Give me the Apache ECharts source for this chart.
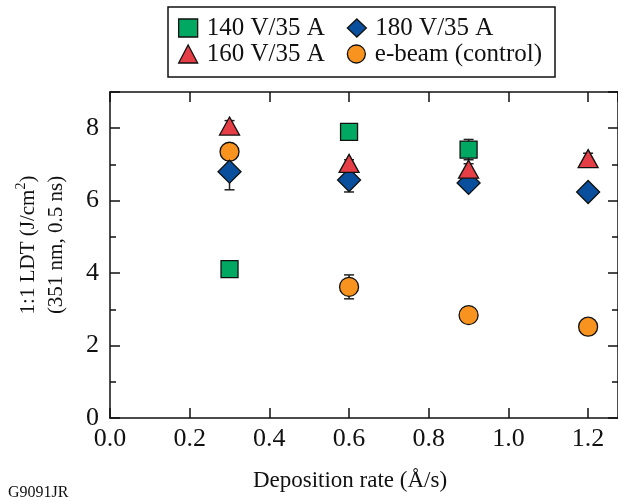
<!DOCTYPE html>
<html><head><meta charset="utf-8">
<script src="https://cdn.jsdelivr.net/npm/echarts@6/dist/echarts.min.js"></script>
<style>html,body{margin:0;padding:0;background:#fff}#c{width:618px;height:501px}</style>
</head><body><div id="c"></div>
<script>
const xs = [0.3, 0.6, 0.9, 1.2];
const s140 = [4.11, 7.9, 7.41, null];
const s140Err = [0.1, 0.05, 0.28, 0];
const s180 = [6.8, 6.57, 6.49, 6.24];
const s180Err = [0.5, 0.33, 0.12, 0.1];
const s160 = [8.06, 7.03, 6.87, 7.16];
const s160Err = [0.15, 0.1, 0.15, 0.15];
const sEbeam = [7.35, 3.62, 2.84, 2.52];
const sEbeamErr = [0.1, 0.33, 0.1, 0.1];
const names = ['140 V/35 A', '180 V/35 A', '160 V/35 A', 'e-beam (control)'];
const colors = ['#00a862', '#0a4f9e', '#e53e47', '#f7931e'];
const symbols = ['rect', 'diamond', 'triangle', 'circle'];
const sizes = [[17,17], [23,23], [20,18], [19,19]];
const xTicks = [0.0, 0.2, 0.4, 0.6, 0.8, 1.0, 1.2];
const yTicks = [0, 2, 4, 6, 8];

const FONT = 'Liberation Serif';
const vals = [s140, s180, s160, sEbeam];
const errs = [s140Err, s180Err, s160Err, sEbeamErr];
const zOrder = [5, 3, 4, 2];

function pts(v){ return xs.map((x,i)=> v[i]==null ? null : [x, v[i]]).filter(p=>p); }
function errPts(v,e){ return xs.map((x,i)=> v[i]==null ? null : [x, v[i]-e[i], v[i]+e[i]]).filter(p=>p); }

const errSeries = vals.map((v,k)=>({
  type:'custom', name: names[k]+'_err', silent:true, z:1,
  data: errPts(v, errs[k]),
  renderItem: function(params, api){
    const lo = api.coord([api.value(0), api.value(1)]);
    const hi = api.coord([api.value(0), api.value(2)]);
    const w = 5;
    const st = {stroke:'#222', lineWidth:1.5};
    return {type:'group', children:[
      {type:'line', shape:{x1:lo[0],y1:lo[1],x2:hi[0],y2:hi[1]}, style:st},
      {type:'line', shape:{x1:lo[0]-w,y1:lo[1],x2:lo[0]+w,y2:lo[1]}, style:st},
      {type:'line', shape:{x1:hi[0]-w,y1:hi[1],x2:hi[0]+w,y2:hi[1]}, style:st}
    ]};
  }
}));

const scSeries = vals.map((v,k)=>({
  type:'scatter', name:names[k], z: zOrder[k],
  symbol: symbols[k], symbolSize: sizes[k],
  itemStyle:{color:colors[k], borderColor:'#111', borderWidth:1.3, opacity:1},
  emphasis:{disabled:true},
  data: pts(v)
}));

function legendRow(idx, top){
  return {
    data: idx.map(k=>({name:names[k], icon:symbols[k], itemStyle:{color:colors[k], borderColor:'#111', borderWidth:1.3, opacity:1}})),
    left:178, top:top, orient:'horizontal', padding:0,
    itemGap:22, itemWidth:19, itemHeight:18,
    textStyle:{fontFamily:FONT, fontSize:25, lineHeight:26, color:'#111', padding:[0,0,0,4]},
    selectedMode:false
  };
}

const axisLine = {show:true, onZero:false, lineStyle:{color:'#111', width:1.5}};
const tick = {show:true, inside:true, length:10, lineStyle:{color:'#111', width:1.5}};
const minor = {show:true, splitNumber:2, length:6, lineStyle:{color:'#111', width:1.5}};
const chart = echarts.init(document.getElementById('c'), null, {renderer:'canvas'});
chart.setOption({
  animation:false,
  textStyle:{fontFamily:FONT},
  grid:{left:110, top:92, right:-2, bottom:83},
  legend:[legendRow([0,1], 15), legendRow([2,3], 41)],
  xAxis:[{
    type:'value', min:0, max:1.275, interval:0.2, position:'bottom',
    axisLine:axisLine, splitLine:{show:false}, axisTick:tick,
    axisLabel:{fontFamily:FONT, fontSize:26, color:'#111', margin:8, showMaxLabel:false,
      formatter: v => { const t = xTicks.find(q=>Math.abs(q-v)<1e-6); return t==null?'':t.toFixed(1); }}
  },{
    type:'value', min:0, max:1.275, interval:0.2, position:'top',
    axisLine:axisLine, splitLine:{show:false}, axisLabel:{show:false}, axisTick:tick
  }],
  yAxis:[{
    type:'value', min:0, max:9, interval:2, position:'left',
    axisLine:axisLine, splitLine:{show:false}, axisTick:tick, minorTick:minor,
    axisLabel:{fontFamily:FONT, fontSize:26, color:'#111', margin:11,
      formatter: v => yTicks.includes(v) ? String(v) : ''}
  },{
    type:'value', min:0, max:9, interval:2, position:'right',
    axisLine:axisLine, splitLine:{show:false}, axisLabel:{show:false}, axisTick:tick, minorTick:minor
  }],
  graphic:[
    {type:'rect', z:0, shape:{x:168, y:7, width:387, height:70},
      style:{fill:'#fff', stroke:'#111', lineWidth:1.5}},
    {type:'text', x:42, y:245, rotation:Math.PI/2,
      style:{text:'{a|1:1 LDT (J/cm}{s|2}{a|)}\n{a|(351 nm, 0.5 ns)}',
        align:'center', verticalAlign:'middle', fill:'#111',
        rich:{a:{fontFamily:FONT, fontSize:21, lineHeight:28, fill:'#111'},
              s:{fontFamily:FONT, fontSize:14, lineHeight:28, fill:'#111', verticalAlign:'top', padding:[0,0,0,0]}}}},
    {type:'text', x:350, y:481,
      style:{text:'Deposition rate (Å/s)', font:'23px "Liberation Serif"', fill:'#111', align:'center', verticalAlign:'middle'}},
    {type:'text', x:8, y:493,
      style:{text:'G9091JR', font:'16px "Liberation Serif"', fill:'#111', verticalAlign:'middle'}}
  ],
  series: errSeries.concat(scSeries)
});
</script></body></html>
